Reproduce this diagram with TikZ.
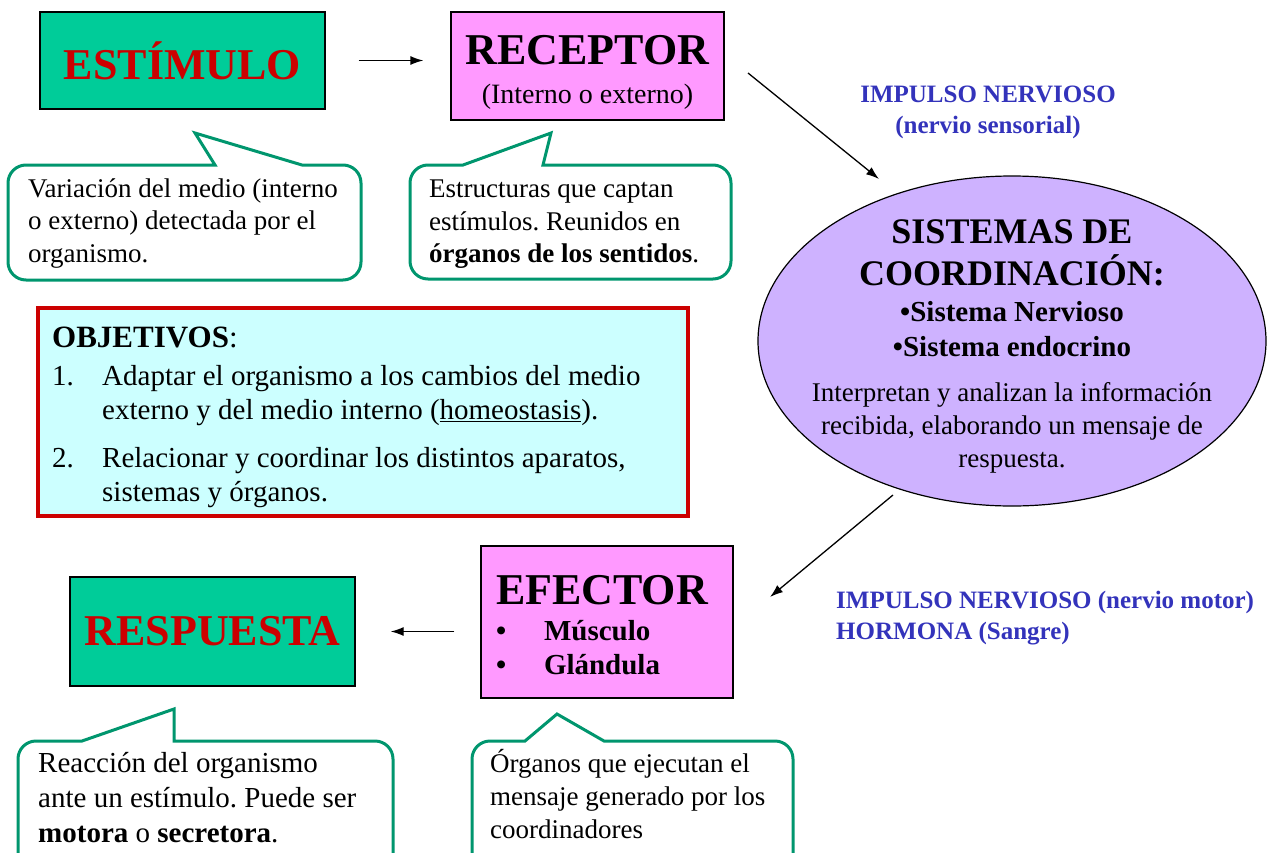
\documentclass[tikz,border=0pt]{standalone}
\usepackage{fontspec}
\setmainfont{Liberation Serif}
\usetikzlibrary{arrows.meta,shapes.geometric}
\frenchspacing

\definecolor{boxgreen}{RGB}{0,204,153}
\definecolor{boxpink}{RGB}{255,153,255}
\definecolor{titlered}{RGB}{204,0,0}
\definecolor{coordviolet}{RGB}{206,178,255}
\definecolor{calloutgreen}{RGB}{0,150,110}
\definecolor{objcyan}{RGB}{204,255,255}
\definecolor{labelblue}{RGB}{51,51,187}

\begin{document}
\begin{tikzpicture}[x=1pt,y=-1pt,
  box/.style={draw=black,line width=1.3pt,inner sep=0pt},
  callout/.style={draw=calloutgreen,line width=3pt,fill=white},
  flow/.style={-{Latex[length=13pt,width=9pt]},line width=1.3pt},
  note/.style={align=left,anchor=north west,inner sep=0pt},
  impulse/.style={text=labelblue,font=\fontsize{25}{31}\selectfont\bfseries,inner sep=0pt}]

\path[use as bounding box,clip] (0,0) rectangle (1272,852);

% boxes
\node[box,fill=boxgreen,minimum width=285pt,minimum height=97pt,text=titlered,
  font=\fontsize{44}{50}\selectfont\bfseries] (estimulo) at (182.5,60.5) {ESTÍMULO};
\node[box,fill=boxpink,minimum width=273pt,minimum height=108pt,align=center,
  font=\fontsize{28}{32}\selectfont] (receptor) at (587.5,66)
  {{\fontsize{44}{50}\selectfont\bfseries\rule{0pt}{42pt}RECEPTOR}\\[7pt](Interno o externo)};
\node[box,fill=boxpink,minimum width=252pt,minimum height=152pt,text width=222pt,align=left,
  font=\fontsize{29}{34}\selectfont\bfseries] (efector) at (607,622)
  {{\fontsize{44}{50}\selectfont\rule{0pt}{36pt}EFECTOR}\\[2pt]
   \makebox[48pt][l]{•}Músculo\\
   \makebox[48pt][l]{•}Glándula};
\node[box,fill=boxgreen,minimum width=285pt,minimum height=109pt,text=titlered,
  font=\fontsize{44}{50}\selectfont\bfseries] (respuesta) at (212.5,631.5) {RESPUESTA};

% sistemas de coordinacion
\node[ellipse,draw=black,line width=1.2pt,fill=coordviolet,minimum width=508pt,
  minimum height=330pt] (coord) at (1012,341) {};
\node[align=center,inner sep=0pt,font=\fontsize{27}{33}\selectfont,yshift=-5pt] (coordtext) at (coord.center)
  {{\fontsize{36}{42}\selectfont\bfseries SISTEMAS DE}\\[9pt]
   {\fontsize{36}{42}\selectfont\bfseries COORDINACIÓN:}\\[3pt]
   {\fontsize{29}{34}\selectfont\bfseries •Sistema Nervioso}\\[2pt]
   {\fontsize{29}{34}\selectfont\bfseries •Sistema endocrino}\\[12pt]
   Interpretan y analizan la información\\
   recibida, elaborando un mensaje de\\
   respuesta.};

% objetivos
\node[draw=titlered,line width=4pt,fill=objcyan,minimum width=650pt,minimum height=208pt] (objbox) at (363,412) {};
\node[note,font=\fontsize{29}{34}\selectfont] (objtext) at (52,326.5)
  {{\fontsize{31}{36}\selectfont\bfseries OBJETIVOS}{\fontsize{31}{36}\selectfont:}\\[4pt]
   \makebox[50pt][l]{1.}Adaptar el organismo a los cambios del medio\\
   \hspace*{50pt}externo y del medio interno (\underline{homeostasis}).\\[14pt]
   \makebox[50pt][l]{2.}Relacionar y coordinar los distintos aparatos,\\
   \hspace*{50pt}sistemas y órganos.};

% callouts
\draw[callout] (8,220) [rounded corners=18pt] -- (8,165) [sharp corners] -- (215,165) -- (195,133)
  -- (302,165) [rounded corners=18pt] -- (361,165) -- (361,280) -- (8,280) -- cycle;
\node[note,font=\fontsize{27}{32.5}\selectfont] (estimulonote) at (28,178.4)
  {Variación del medio (interno\\o externo) detectada por el\\organismo.};

\draw[callout] (410,220) [rounded corners=18pt] -- (410,165) [sharp corners] -- (463,165) -- (551,133)
  -- (543,165) [rounded corners=18pt] -- (731,165) -- (731,279) -- (410,279) -- cycle;
\node[note,font=\fontsize{27}{32.5}\selectfont] (receptornote) at (429,180)
  {Estructuras que captan\\estímulos. Reunidos en\\\textbf{órganos de los sentidos}.};

\draw[callout] (18,800) [rounded corners=18pt] -- (18,741) [sharp corners] -- (82,741) -- (174,709)
  -- (174,741) [rounded corners=18pt] -- (393,741) -- (393,875) -- (18,875) -- cycle;
\node[note,font=\fontsize{29}{35}\selectfont] (respuestanote) at (38,752)
  {Reacción del organismo\\ante un estímulo. Puede ser\\\textbf{motora} o \textbf{secretora}.};

\draw[callout] (472,800) [rounded corners=18pt] -- (472,741) [sharp corners] -- (525,741) -- (557,714)
  -- (604,741) [rounded corners=18pt] -- (793,741) -- (793,875) -- (472,875) -- cycle;
\node[note,font=\fontsize{27}{33}\selectfont] (efectornote) at (490,749.5)
  {Órganos que ejecutan el\\mensaje generado por los\\coordinadores};

% impulsos
\node[impulse,align=center,anchor=north] (impsens) at (988,86)
  {IMPULSO NERVIOSO\\(nervio sensorial)};
\node[impulse,align=left,anchor=north west] (impmotor) at (836,591)
  {IMPULSO NERVIOSO (nervio motor)\\HORMONA (Sangre)};

% connectors
\coordinate (senstail) at (748,73);
\coordinate (senshead) at (879,179);
\coordinate (motortail) at (893,495);
\coordinate (motorhead) at (770,597);

\draw[flow,shorten <=33pt,shorten >=27pt] (estimulo.east) -- (estimulo.east -| receptor.west);
\draw[flow] (senstail) -- (senshead);
\draw[flow] (motortail) -- (motorhead);
\draw[flow,shorten <=26pt,shorten >=35pt] (efector.west |- respuesta.east) -- (respuesta.east);

\end{tikzpicture}
\end{document}
